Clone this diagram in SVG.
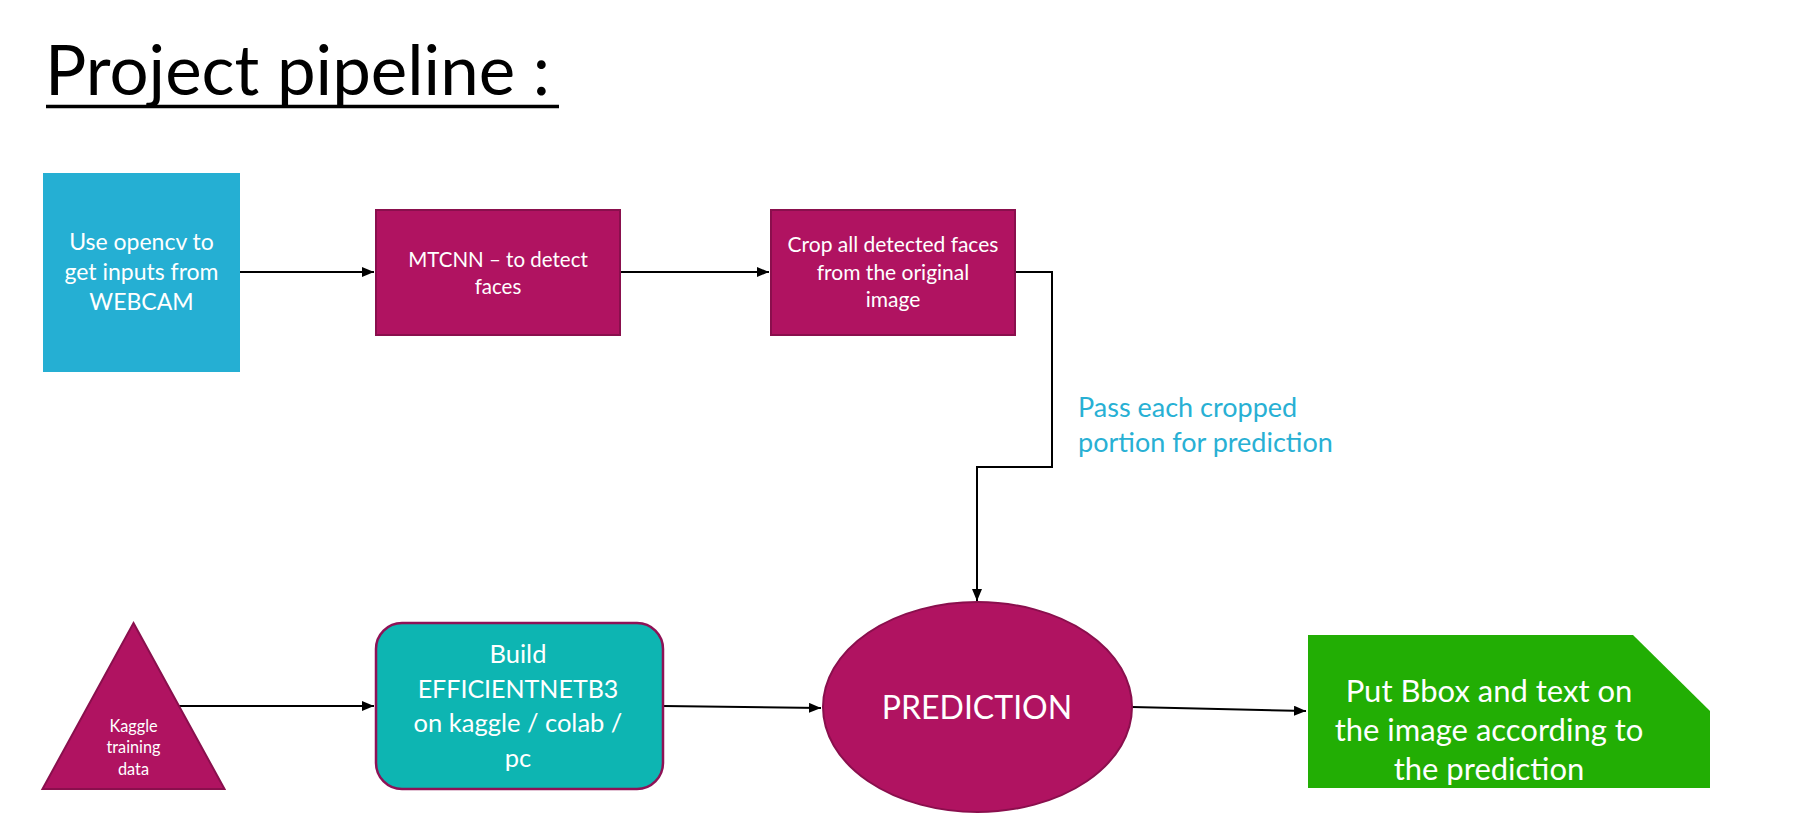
<svg xmlns="http://www.w3.org/2000/svg" width="1803" height="814" viewBox="0 0 1803 814">
  <style>
    text { font-family: Lato, "Open Sans", "Liberation Sans", sans-serif; }
    .w { fill: #ffffff; text-anchor: middle; }
    .mag { fill: #B01361; stroke: #8A0F4D; stroke-width: 2; }
    .conn { fill: none; stroke: #000000; stroke-width: 2; }
  </style>
  <defs>
    <marker id="ah" markerUnits="userSpaceOnUse" markerWidth="13" markerHeight="11" refX="12" refY="5" orient="auto">
      <path d="M0,0 L12,5 L0,10 z" fill="#000000"/>
    </marker>
  </defs>
  <rect width="1803" height="814" fill="#ffffff"/>

  <g id="title">
    <text x="45" y="95" font-size="69" fill="#000000">Project pipeline :</text>
    <line x1="46" y1="106.5" x2="559" y2="106.5" stroke="#000000" stroke-width="3.5"/>
  </g>

  <g id="connectors">
    <path class="conn" d="M240,272 L374,272" marker-end="url(#ah)"/>
    <path class="conn" d="M620,272 L769,272" marker-end="url(#ah)"/>
    <path class="conn" d="M1015,272 L1052,272 L1052,467 L977,467 L977,601" marker-end="url(#ah)"/>
    <path class="conn" d="M179,706 L374,706" marker-end="url(#ah)"/>
    <path class="conn" d="M663,706 L821,708" marker-end="url(#ah)"/>
    <path class="conn" d="M1132,707 L1306,711" marker-end="url(#ah)"/>
  </g>

  <g id="label-pass">
    <text x="1078" y="417" font-size="27" fill="#28B0D4">Pass each cropped</text>
    <text x="1078" y="452" font-size="27" fill="#28B0D4">portion for prediction</text>
  </g>

  <g id="node-webcam">
    <rect x="43" y="173" width="197" height="199" fill="#25AFD3"/>
    <text class="w" x="141.5" y="250" font-size="23">Use opencv to</text>
    <text class="w" x="141.5" y="280" font-size="23">get inputs from</text>
    <text class="w" x="141.5" y="310" font-size="23">WEBCAM</text>
  </g>

  <g id="node-mtcnn">
    <rect class="mag" x="376" y="210" width="244" height="125"/>
    <text class="w" x="498" y="266.5" font-size="20.5">MTCNN – to detect</text>
    <text class="w" x="498" y="293.5" font-size="20.5">faces</text>
  </g>

  <g id="node-crop">
    <rect class="mag" x="771" y="210" width="244" height="125"/>
    <text class="w" x="893" y="252" font-size="21">Crop all detected faces</text>
    <text class="w" x="893" y="280" font-size="21">from the original</text>
    <text class="w" x="893" y="307" font-size="21">image</text>
  </g>

  <g id="node-kaggle">
    <polygon class="mag" points="133.5,623 224.5,789 42.5,789"/>
    <text class="w" x="133.5" y="732" font-size="16.3">Kaggle</text>
    <text class="w" x="133.5" y="753" font-size="16.3">training</text>
    <text class="w" x="133.5" y="775" font-size="16.3">data</text>
  </g>

  <g id="node-build">
    <rect x="376" y="623" width="287" height="166" rx="26" ry="26" fill="#0DB5B2" stroke="#8E1256" stroke-width="2.5"/>
    <text class="w" x="518" y="663" font-size="25.5">Build</text>
    <text class="w" x="518" y="698" font-size="25">EFFICIENTNETB3</text>
    <text class="w" x="518" y="732" font-size="25.5">on kaggle / colab /</text>
    <text class="w" x="518" y="767" font-size="25.5">pc</text>
  </g>

  <g id="node-prediction">
    <ellipse class="mag" cx="977.5" cy="707" rx="154.5" ry="105"/>
    <text class="w" x="977" y="719" font-size="32">PREDICTION</text>
  </g>

  <g id="node-output">
    <polygon points="1308,635 1633,635 1710,711 1710,788 1308,788" fill="#22AE04"/>
    <text class="w" x="1489" y="702" font-size="31">Put Bbox and text on</text>
    <text class="w" x="1489" y="741" font-size="31">the image according to</text>
    <text class="w" x="1489" y="780" font-size="31">the prediction</text>
  </g>
</svg>
